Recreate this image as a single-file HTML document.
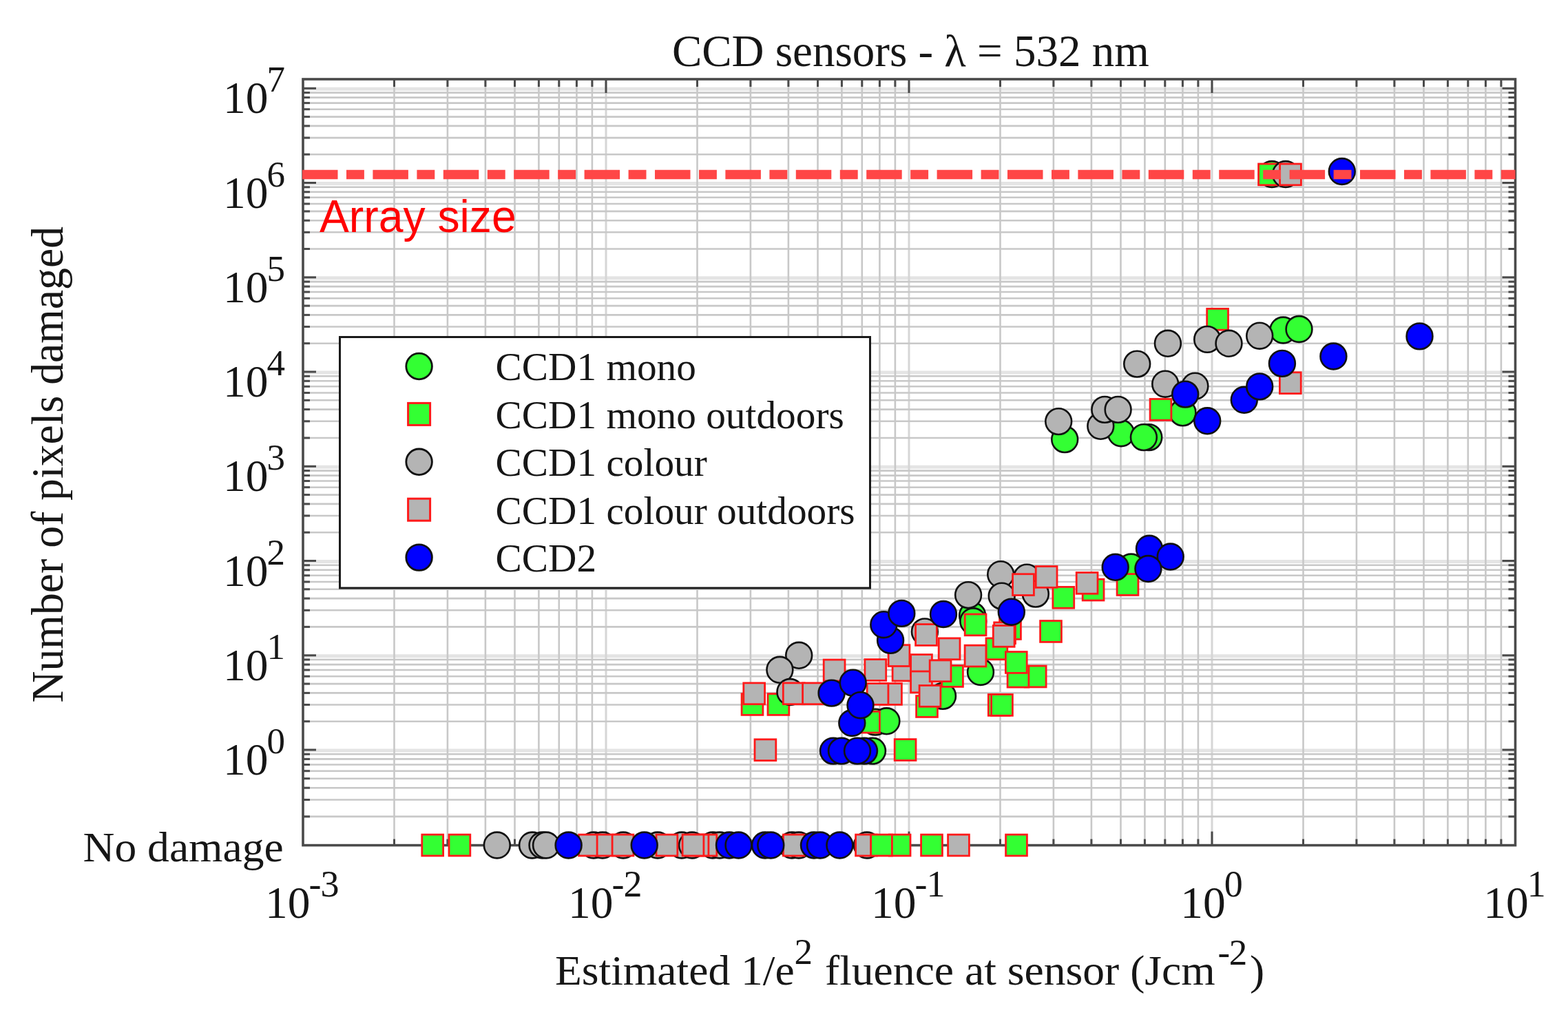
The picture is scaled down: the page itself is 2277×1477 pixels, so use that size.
<!DOCTYPE html>
<html><head><meta charset="utf-8"><title>CCD sensors</title><style>html,body{margin:0;padding:0;background:#fff;}svg{display:block;}</style></head><body>
<svg width="2277" height="1477" viewBox="0 0 2277 1477">
<rect width="100%" height="100%" fill="#fff"/>
<g stroke="#e4e4e4" stroke-width="5">
<line x1="440.0" y1="1090.0" x2="2200.5" y2="1090.0"/>
<line x1="440.0" y1="952.8" x2="2200.5" y2="952.8"/>
<line x1="440.0" y1="815.5" x2="2200.5" y2="815.5"/>
<line x1="440.0" y1="678.3" x2="2200.5" y2="678.3"/>
<line x1="440.0" y1="541.0" x2="2200.5" y2="541.0"/>
<line x1="440.0" y1="403.8" x2="2200.5" y2="403.8"/>
<line x1="440.0" y1="266.5" x2="2200.5" y2="266.5"/>
<line x1="440.0" y1="129.3" x2="2200.5" y2="129.3"/>
</g>
<g stroke="#d6d6d6" stroke-width="3">
<line x1="880.0" y1="115.0" x2="880.0" y2="1227.6"/>
<line x1="1320.0" y1="115.0" x2="1320.0" y2="1227.6"/>
<line x1="1760.0" y1="115.0" x2="1760.0" y2="1227.6"/>
</g>
<g stroke="#c8c8c8" stroke-width="2.6">
<line x1="572.5" y1="115.0" x2="572.5" y2="1227.6"/>
<line x1="649.9" y1="115.0" x2="649.9" y2="1227.6"/>
<line x1="704.9" y1="115.0" x2="704.9" y2="1227.6"/>
<line x1="747.5" y1="115.0" x2="747.5" y2="1227.6"/>
<line x1="782.4" y1="115.0" x2="782.4" y2="1227.6"/>
<line x1="811.8" y1="115.0" x2="811.8" y2="1227.6"/>
<line x1="837.4" y1="115.0" x2="837.4" y2="1227.6"/>
<line x1="859.9" y1="115.0" x2="859.9" y2="1227.6"/>
<line x1="1012.5" y1="115.0" x2="1012.5" y2="1227.6"/>
<line x1="1089.9" y1="115.0" x2="1089.9" y2="1227.6"/>
<line x1="1144.9" y1="115.0" x2="1144.9" y2="1227.6"/>
<line x1="1187.5" y1="115.0" x2="1187.5" y2="1227.6"/>
<line x1="1222.4" y1="115.0" x2="1222.4" y2="1227.6"/>
<line x1="1251.8" y1="115.0" x2="1251.8" y2="1227.6"/>
<line x1="1277.4" y1="115.0" x2="1277.4" y2="1227.6"/>
<line x1="1299.9" y1="115.0" x2="1299.9" y2="1227.6"/>
<line x1="1452.5" y1="115.0" x2="1452.5" y2="1227.6"/>
<line x1="1529.9" y1="115.0" x2="1529.9" y2="1227.6"/>
<line x1="1584.9" y1="115.0" x2="1584.9" y2="1227.6"/>
<line x1="1627.5" y1="115.0" x2="1627.5" y2="1227.6"/>
<line x1="1662.4" y1="115.0" x2="1662.4" y2="1227.6"/>
<line x1="1691.8" y1="115.0" x2="1691.8" y2="1227.6"/>
<line x1="1717.4" y1="115.0" x2="1717.4" y2="1227.6"/>
<line x1="1739.9" y1="115.0" x2="1739.9" y2="1227.6"/>
<line x1="1892.5" y1="115.0" x2="1892.5" y2="1227.6"/>
<line x1="1969.9" y1="115.0" x2="1969.9" y2="1227.6"/>
<line x1="2024.9" y1="115.0" x2="2024.9" y2="1227.6"/>
<line x1="2067.5" y1="115.0" x2="2067.5" y2="1227.6"/>
<line x1="2102.4" y1="115.0" x2="2102.4" y2="1227.6"/>
<line x1="2131.8" y1="115.0" x2="2131.8" y2="1227.6"/>
<line x1="2157.4" y1="115.0" x2="2157.4" y2="1227.6"/>
<line x1="2179.9" y1="115.0" x2="2179.9" y2="1227.6"/>
<line x1="440.0" y1="1185.9" x2="2200.5" y2="1185.9"/>
<line x1="440.0" y1="1161.5" x2="2200.5" y2="1161.5"/>
<line x1="440.0" y1="1144.2" x2="2200.5" y2="1144.2"/>
<line x1="440.0" y1="1130.7" x2="2200.5" y2="1130.7"/>
<line x1="440.0" y1="1119.7" x2="2200.5" y2="1119.7"/>
<line x1="440.0" y1="1110.5" x2="2200.5" y2="1110.5"/>
<line x1="440.0" y1="1102.4" x2="2200.5" y2="1102.4"/>
<line x1="440.0" y1="1095.3" x2="2200.5" y2="1095.3"/>
<line x1="440.0" y1="1047.7" x2="2200.5" y2="1047.7"/>
<line x1="440.0" y1="1023.5" x2="2200.5" y2="1023.5"/>
<line x1="440.0" y1="1006.4" x2="2200.5" y2="1006.4"/>
<line x1="440.0" y1="993.1" x2="2200.5" y2="993.1"/>
<line x1="440.0" y1="982.2" x2="2200.5" y2="982.2"/>
<line x1="440.0" y1="973.0" x2="2200.5" y2="973.0"/>
<line x1="440.0" y1="965.1" x2="2200.5" y2="965.1"/>
<line x1="440.0" y1="958.0" x2="2200.5" y2="958.0"/>
<line x1="440.0" y1="910.4" x2="2200.5" y2="910.4"/>
<line x1="440.0" y1="886.3" x2="2200.5" y2="886.3"/>
<line x1="440.0" y1="869.1" x2="2200.5" y2="869.1"/>
<line x1="440.0" y1="855.8" x2="2200.5" y2="855.8"/>
<line x1="440.0" y1="845.0" x2="2200.5" y2="845.0"/>
<line x1="440.0" y1="835.8" x2="2200.5" y2="835.8"/>
<line x1="440.0" y1="827.8" x2="2200.5" y2="827.8"/>
<line x1="440.0" y1="820.8" x2="2200.5" y2="820.8"/>
<line x1="440.0" y1="773.2" x2="2200.5" y2="773.2"/>
<line x1="440.0" y1="749.0" x2="2200.5" y2="749.0"/>
<line x1="440.0" y1="731.9" x2="2200.5" y2="731.9"/>
<line x1="440.0" y1="718.6" x2="2200.5" y2="718.6"/>
<line x1="440.0" y1="707.7" x2="2200.5" y2="707.7"/>
<line x1="440.0" y1="698.5" x2="2200.5" y2="698.5"/>
<line x1="440.0" y1="690.6" x2="2200.5" y2="690.6"/>
<line x1="440.0" y1="683.6" x2="2200.5" y2="683.6"/>
<line x1="440.0" y1="636.0" x2="2200.5" y2="636.0"/>
<line x1="440.0" y1="611.8" x2="2200.5" y2="611.8"/>
<line x1="440.0" y1="594.6" x2="2200.5" y2="594.6"/>
<line x1="440.0" y1="581.3" x2="2200.5" y2="581.3"/>
<line x1="440.0" y1="570.5" x2="2200.5" y2="570.5"/>
<line x1="440.0" y1="561.3" x2="2200.5" y2="561.3"/>
<line x1="440.0" y1="553.3" x2="2200.5" y2="553.3"/>
<line x1="440.0" y1="546.3" x2="2200.5" y2="546.3"/>
<line x1="440.0" y1="498.7" x2="2200.5" y2="498.7"/>
<line x1="440.0" y1="474.5" x2="2200.5" y2="474.5"/>
<line x1="440.0" y1="457.4" x2="2200.5" y2="457.4"/>
<line x1="440.0" y1="444.1" x2="2200.5" y2="444.1"/>
<line x1="440.0" y1="433.2" x2="2200.5" y2="433.2"/>
<line x1="440.0" y1="424.0" x2="2200.5" y2="424.0"/>
<line x1="440.0" y1="416.1" x2="2200.5" y2="416.1"/>
<line x1="440.0" y1="409.1" x2="2200.5" y2="409.1"/>
<line x1="440.0" y1="361.5" x2="2200.5" y2="361.5"/>
<line x1="440.0" y1="337.3" x2="2200.5" y2="337.3"/>
<line x1="440.0" y1="320.2" x2="2200.5" y2="320.2"/>
<line x1="440.0" y1="306.9" x2="2200.5" y2="306.9"/>
<line x1="440.0" y1="296.0" x2="2200.5" y2="296.0"/>
<line x1="440.0" y1="286.8" x2="2200.5" y2="286.8"/>
<line x1="440.0" y1="278.8" x2="2200.5" y2="278.8"/>
<line x1="440.0" y1="271.8" x2="2200.5" y2="271.8"/>
<line x1="440.0" y1="224.2" x2="2200.5" y2="224.2"/>
<line x1="440.0" y1="200.1" x2="2200.5" y2="200.1"/>
<line x1="440.0" y1="182.9" x2="2200.5" y2="182.9"/>
<line x1="440.0" y1="169.6" x2="2200.5" y2="169.6"/>
<line x1="440.0" y1="158.7" x2="2200.5" y2="158.7"/>
<line x1="440.0" y1="149.6" x2="2200.5" y2="149.6"/>
<line x1="440.0" y1="141.6" x2="2200.5" y2="141.6"/>
<line x1="440.0" y1="134.6" x2="2200.5" y2="134.6"/>
</g>
<g stroke="#4a4a4a" stroke-width="3">
<line x1="440.0" y1="1089.0" x2="459.0" y2="1089.0"/>
<line x1="2200.5" y1="1089.0" x2="2181.5" y2="1089.0"/>
<line x1="440.0" y1="951.8" x2="459.0" y2="951.8"/>
<line x1="2200.5" y1="951.8" x2="2181.5" y2="951.8"/>
<line x1="440.0" y1="814.5" x2="459.0" y2="814.5"/>
<line x1="2200.5" y1="814.5" x2="2181.5" y2="814.5"/>
<line x1="440.0" y1="677.3" x2="459.0" y2="677.3"/>
<line x1="2200.5" y1="677.3" x2="2181.5" y2="677.3"/>
<line x1="440.0" y1="540.0" x2="459.0" y2="540.0"/>
<line x1="2200.5" y1="540.0" x2="2181.5" y2="540.0"/>
<line x1="440.0" y1="402.8" x2="459.0" y2="402.8"/>
<line x1="2200.5" y1="402.8" x2="2181.5" y2="402.8"/>
<line x1="440.0" y1="265.5" x2="459.0" y2="265.5"/>
<line x1="2200.5" y1="265.5" x2="2181.5" y2="265.5"/>
<line x1="440.0" y1="128.3" x2="459.0" y2="128.3"/>
<line x1="2200.5" y1="128.3" x2="2181.5" y2="128.3"/>
<line x1="440.0" y1="1185.9" x2="450.0" y2="1185.9"/>
<line x1="2200.5" y1="1185.9" x2="2190.5" y2="1185.9"/>
<line x1="440.0" y1="1161.5" x2="450.0" y2="1161.5"/>
<line x1="2200.5" y1="1161.5" x2="2190.5" y2="1161.5"/>
<line x1="440.0" y1="1144.2" x2="450.0" y2="1144.2"/>
<line x1="2200.5" y1="1144.2" x2="2190.5" y2="1144.2"/>
<line x1="440.0" y1="1130.7" x2="450.0" y2="1130.7"/>
<line x1="2200.5" y1="1130.7" x2="2190.5" y2="1130.7"/>
<line x1="440.0" y1="1119.7" x2="450.0" y2="1119.7"/>
<line x1="2200.5" y1="1119.7" x2="2190.5" y2="1119.7"/>
<line x1="440.0" y1="1110.5" x2="450.0" y2="1110.5"/>
<line x1="2200.5" y1="1110.5" x2="2190.5" y2="1110.5"/>
<line x1="440.0" y1="1102.4" x2="450.0" y2="1102.4"/>
<line x1="2200.5" y1="1102.4" x2="2190.5" y2="1102.4"/>
<line x1="440.0" y1="1095.3" x2="450.0" y2="1095.3"/>
<line x1="2200.5" y1="1095.3" x2="2190.5" y2="1095.3"/>
<line x1="440.0" y1="1047.7" x2="450.0" y2="1047.7"/>
<line x1="2200.5" y1="1047.7" x2="2190.5" y2="1047.7"/>
<line x1="440.0" y1="1023.5" x2="450.0" y2="1023.5"/>
<line x1="2200.5" y1="1023.5" x2="2190.5" y2="1023.5"/>
<line x1="440.0" y1="1006.4" x2="450.0" y2="1006.4"/>
<line x1="2200.5" y1="1006.4" x2="2190.5" y2="1006.4"/>
<line x1="440.0" y1="993.1" x2="450.0" y2="993.1"/>
<line x1="2200.5" y1="993.1" x2="2190.5" y2="993.1"/>
<line x1="440.0" y1="982.2" x2="450.0" y2="982.2"/>
<line x1="2200.5" y1="982.2" x2="2190.5" y2="982.2"/>
<line x1="440.0" y1="973.0" x2="450.0" y2="973.0"/>
<line x1="2200.5" y1="973.0" x2="2190.5" y2="973.0"/>
<line x1="440.0" y1="965.1" x2="450.0" y2="965.1"/>
<line x1="2200.5" y1="965.1" x2="2190.5" y2="965.1"/>
<line x1="440.0" y1="958.0" x2="450.0" y2="958.0"/>
<line x1="2200.5" y1="958.0" x2="2190.5" y2="958.0"/>
<line x1="440.0" y1="910.4" x2="450.0" y2="910.4"/>
<line x1="2200.5" y1="910.4" x2="2190.5" y2="910.4"/>
<line x1="440.0" y1="886.3" x2="450.0" y2="886.3"/>
<line x1="2200.5" y1="886.3" x2="2190.5" y2="886.3"/>
<line x1="440.0" y1="869.1" x2="450.0" y2="869.1"/>
<line x1="2200.5" y1="869.1" x2="2190.5" y2="869.1"/>
<line x1="440.0" y1="855.8" x2="450.0" y2="855.8"/>
<line x1="2200.5" y1="855.8" x2="2190.5" y2="855.8"/>
<line x1="440.0" y1="845.0" x2="450.0" y2="845.0"/>
<line x1="2200.5" y1="845.0" x2="2190.5" y2="845.0"/>
<line x1="440.0" y1="835.8" x2="450.0" y2="835.8"/>
<line x1="2200.5" y1="835.8" x2="2190.5" y2="835.8"/>
<line x1="440.0" y1="827.8" x2="450.0" y2="827.8"/>
<line x1="2200.5" y1="827.8" x2="2190.5" y2="827.8"/>
<line x1="440.0" y1="820.8" x2="450.0" y2="820.8"/>
<line x1="2200.5" y1="820.8" x2="2190.5" y2="820.8"/>
<line x1="440.0" y1="773.2" x2="450.0" y2="773.2"/>
<line x1="2200.5" y1="773.2" x2="2190.5" y2="773.2"/>
<line x1="440.0" y1="749.0" x2="450.0" y2="749.0"/>
<line x1="2200.5" y1="749.0" x2="2190.5" y2="749.0"/>
<line x1="440.0" y1="731.9" x2="450.0" y2="731.9"/>
<line x1="2200.5" y1="731.9" x2="2190.5" y2="731.9"/>
<line x1="440.0" y1="718.6" x2="450.0" y2="718.6"/>
<line x1="2200.5" y1="718.6" x2="2190.5" y2="718.6"/>
<line x1="440.0" y1="707.7" x2="450.0" y2="707.7"/>
<line x1="2200.5" y1="707.7" x2="2190.5" y2="707.7"/>
<line x1="440.0" y1="698.5" x2="450.0" y2="698.5"/>
<line x1="2200.5" y1="698.5" x2="2190.5" y2="698.5"/>
<line x1="440.0" y1="690.6" x2="450.0" y2="690.6"/>
<line x1="2200.5" y1="690.6" x2="2190.5" y2="690.6"/>
<line x1="440.0" y1="683.6" x2="450.0" y2="683.6"/>
<line x1="2200.5" y1="683.6" x2="2190.5" y2="683.6"/>
<line x1="440.0" y1="636.0" x2="450.0" y2="636.0"/>
<line x1="2200.5" y1="636.0" x2="2190.5" y2="636.0"/>
<line x1="440.0" y1="611.8" x2="450.0" y2="611.8"/>
<line x1="2200.5" y1="611.8" x2="2190.5" y2="611.8"/>
<line x1="440.0" y1="594.6" x2="450.0" y2="594.6"/>
<line x1="2200.5" y1="594.6" x2="2190.5" y2="594.6"/>
<line x1="440.0" y1="581.3" x2="450.0" y2="581.3"/>
<line x1="2200.5" y1="581.3" x2="2190.5" y2="581.3"/>
<line x1="440.0" y1="570.5" x2="450.0" y2="570.5"/>
<line x1="2200.5" y1="570.5" x2="2190.5" y2="570.5"/>
<line x1="440.0" y1="561.3" x2="450.0" y2="561.3"/>
<line x1="2200.5" y1="561.3" x2="2190.5" y2="561.3"/>
<line x1="440.0" y1="553.3" x2="450.0" y2="553.3"/>
<line x1="2200.5" y1="553.3" x2="2190.5" y2="553.3"/>
<line x1="440.0" y1="546.3" x2="450.0" y2="546.3"/>
<line x1="2200.5" y1="546.3" x2="2190.5" y2="546.3"/>
<line x1="440.0" y1="498.7" x2="450.0" y2="498.7"/>
<line x1="2200.5" y1="498.7" x2="2190.5" y2="498.7"/>
<line x1="440.0" y1="474.5" x2="450.0" y2="474.5"/>
<line x1="2200.5" y1="474.5" x2="2190.5" y2="474.5"/>
<line x1="440.0" y1="457.4" x2="450.0" y2="457.4"/>
<line x1="2200.5" y1="457.4" x2="2190.5" y2="457.4"/>
<line x1="440.0" y1="444.1" x2="450.0" y2="444.1"/>
<line x1="2200.5" y1="444.1" x2="2190.5" y2="444.1"/>
<line x1="440.0" y1="433.2" x2="450.0" y2="433.2"/>
<line x1="2200.5" y1="433.2" x2="2190.5" y2="433.2"/>
<line x1="440.0" y1="424.0" x2="450.0" y2="424.0"/>
<line x1="2200.5" y1="424.0" x2="2190.5" y2="424.0"/>
<line x1="440.0" y1="416.1" x2="450.0" y2="416.1"/>
<line x1="2200.5" y1="416.1" x2="2190.5" y2="416.1"/>
<line x1="440.0" y1="409.1" x2="450.0" y2="409.1"/>
<line x1="2200.5" y1="409.1" x2="2190.5" y2="409.1"/>
<line x1="440.0" y1="361.5" x2="450.0" y2="361.5"/>
<line x1="2200.5" y1="361.5" x2="2190.5" y2="361.5"/>
<line x1="440.0" y1="337.3" x2="450.0" y2="337.3"/>
<line x1="2200.5" y1="337.3" x2="2190.5" y2="337.3"/>
<line x1="440.0" y1="320.2" x2="450.0" y2="320.2"/>
<line x1="2200.5" y1="320.2" x2="2190.5" y2="320.2"/>
<line x1="440.0" y1="306.9" x2="450.0" y2="306.9"/>
<line x1="2200.5" y1="306.9" x2="2190.5" y2="306.9"/>
<line x1="440.0" y1="296.0" x2="450.0" y2="296.0"/>
<line x1="2200.5" y1="296.0" x2="2190.5" y2="296.0"/>
<line x1="440.0" y1="286.8" x2="450.0" y2="286.8"/>
<line x1="2200.5" y1="286.8" x2="2190.5" y2="286.8"/>
<line x1="440.0" y1="278.8" x2="450.0" y2="278.8"/>
<line x1="2200.5" y1="278.8" x2="2190.5" y2="278.8"/>
<line x1="440.0" y1="271.8" x2="450.0" y2="271.8"/>
<line x1="2200.5" y1="271.8" x2="2190.5" y2="271.8"/>
<line x1="440.0" y1="224.2" x2="450.0" y2="224.2"/>
<line x1="2200.5" y1="224.2" x2="2190.5" y2="224.2"/>
<line x1="440.0" y1="200.1" x2="450.0" y2="200.1"/>
<line x1="2200.5" y1="200.1" x2="2190.5" y2="200.1"/>
<line x1="440.0" y1="182.9" x2="450.0" y2="182.9"/>
<line x1="2200.5" y1="182.9" x2="2190.5" y2="182.9"/>
<line x1="440.0" y1="169.6" x2="450.0" y2="169.6"/>
<line x1="2200.5" y1="169.6" x2="2190.5" y2="169.6"/>
<line x1="440.0" y1="158.7" x2="450.0" y2="158.7"/>
<line x1="2200.5" y1="158.7" x2="2190.5" y2="158.7"/>
<line x1="440.0" y1="149.6" x2="450.0" y2="149.6"/>
<line x1="2200.5" y1="149.6" x2="2190.5" y2="149.6"/>
<line x1="440.0" y1="141.6" x2="450.0" y2="141.6"/>
<line x1="2200.5" y1="141.6" x2="2190.5" y2="141.6"/>
<line x1="440.0" y1="134.6" x2="450.0" y2="134.6"/>
<line x1="2200.5" y1="134.6" x2="2190.5" y2="134.6"/>
<line x1="880.0" y1="115.0" x2="880.0" y2="135.0"/>
<line x1="880.0" y1="1227.6" x2="880.0" y2="1207.6"/>
<line x1="1320.0" y1="115.0" x2="1320.0" y2="135.0"/>
<line x1="1320.0" y1="1227.6" x2="1320.0" y2="1207.6"/>
<line x1="1760.0" y1="115.0" x2="1760.0" y2="135.0"/>
<line x1="1760.0" y1="1227.6" x2="1760.0" y2="1207.6"/>
<line x1="572.5" y1="115.0" x2="572.5" y2="126.0"/>
<line x1="572.5" y1="1227.6" x2="572.5" y2="1218.6"/>
<line x1="649.9" y1="115.0" x2="649.9" y2="126.0"/>
<line x1="649.9" y1="1227.6" x2="649.9" y2="1218.6"/>
<line x1="704.9" y1="115.0" x2="704.9" y2="126.0"/>
<line x1="704.9" y1="1227.6" x2="704.9" y2="1218.6"/>
<line x1="747.5" y1="115.0" x2="747.5" y2="126.0"/>
<line x1="747.5" y1="1227.6" x2="747.5" y2="1218.6"/>
<line x1="782.4" y1="115.0" x2="782.4" y2="126.0"/>
<line x1="782.4" y1="1227.6" x2="782.4" y2="1218.6"/>
<line x1="811.8" y1="115.0" x2="811.8" y2="126.0"/>
<line x1="811.8" y1="1227.6" x2="811.8" y2="1218.6"/>
<line x1="837.4" y1="115.0" x2="837.4" y2="126.0"/>
<line x1="837.4" y1="1227.6" x2="837.4" y2="1218.6"/>
<line x1="859.9" y1="115.0" x2="859.9" y2="126.0"/>
<line x1="859.9" y1="1227.6" x2="859.9" y2="1218.6"/>
<line x1="1012.5" y1="115.0" x2="1012.5" y2="126.0"/>
<line x1="1012.5" y1="1227.6" x2="1012.5" y2="1218.6"/>
<line x1="1089.9" y1="115.0" x2="1089.9" y2="126.0"/>
<line x1="1089.9" y1="1227.6" x2="1089.9" y2="1218.6"/>
<line x1="1144.9" y1="115.0" x2="1144.9" y2="126.0"/>
<line x1="1144.9" y1="1227.6" x2="1144.9" y2="1218.6"/>
<line x1="1187.5" y1="115.0" x2="1187.5" y2="126.0"/>
<line x1="1187.5" y1="1227.6" x2="1187.5" y2="1218.6"/>
<line x1="1222.4" y1="115.0" x2="1222.4" y2="126.0"/>
<line x1="1222.4" y1="1227.6" x2="1222.4" y2="1218.6"/>
<line x1="1251.8" y1="115.0" x2="1251.8" y2="126.0"/>
<line x1="1251.8" y1="1227.6" x2="1251.8" y2="1218.6"/>
<line x1="1277.4" y1="115.0" x2="1277.4" y2="126.0"/>
<line x1="1277.4" y1="1227.6" x2="1277.4" y2="1218.6"/>
<line x1="1299.9" y1="115.0" x2="1299.9" y2="126.0"/>
<line x1="1299.9" y1="1227.6" x2="1299.9" y2="1218.6"/>
<line x1="1452.5" y1="115.0" x2="1452.5" y2="126.0"/>
<line x1="1452.5" y1="1227.6" x2="1452.5" y2="1218.6"/>
<line x1="1529.9" y1="115.0" x2="1529.9" y2="126.0"/>
<line x1="1529.9" y1="1227.6" x2="1529.9" y2="1218.6"/>
<line x1="1584.9" y1="115.0" x2="1584.9" y2="126.0"/>
<line x1="1584.9" y1="1227.6" x2="1584.9" y2="1218.6"/>
<line x1="1627.5" y1="115.0" x2="1627.5" y2="126.0"/>
<line x1="1627.5" y1="1227.6" x2="1627.5" y2="1218.6"/>
<line x1="1662.4" y1="115.0" x2="1662.4" y2="126.0"/>
<line x1="1662.4" y1="1227.6" x2="1662.4" y2="1218.6"/>
<line x1="1691.8" y1="115.0" x2="1691.8" y2="126.0"/>
<line x1="1691.8" y1="1227.6" x2="1691.8" y2="1218.6"/>
<line x1="1717.4" y1="115.0" x2="1717.4" y2="126.0"/>
<line x1="1717.4" y1="1227.6" x2="1717.4" y2="1218.6"/>
<line x1="1739.9" y1="115.0" x2="1739.9" y2="126.0"/>
<line x1="1739.9" y1="1227.6" x2="1739.9" y2="1218.6"/>
<line x1="1892.5" y1="115.0" x2="1892.5" y2="126.0"/>
<line x1="1892.5" y1="1227.6" x2="1892.5" y2="1218.6"/>
<line x1="1969.9" y1="115.0" x2="1969.9" y2="126.0"/>
<line x1="1969.9" y1="1227.6" x2="1969.9" y2="1218.6"/>
<line x1="2024.9" y1="115.0" x2="2024.9" y2="126.0"/>
<line x1="2024.9" y1="1227.6" x2="2024.9" y2="1218.6"/>
<line x1="2067.5" y1="115.0" x2="2067.5" y2="126.0"/>
<line x1="2067.5" y1="1227.6" x2="2067.5" y2="1218.6"/>
<line x1="2102.4" y1="115.0" x2="2102.4" y2="126.0"/>
<line x1="2102.4" y1="1227.6" x2="2102.4" y2="1218.6"/>
<line x1="2131.8" y1="115.0" x2="2131.8" y2="126.0"/>
<line x1="2131.8" y1="1227.6" x2="2131.8" y2="1218.6"/>
<line x1="2157.4" y1="115.0" x2="2157.4" y2="126.0"/>
<line x1="2157.4" y1="1227.6" x2="2157.4" y2="1218.6"/>
<line x1="2179.9" y1="115.0" x2="2179.9" y2="126.0"/>
<line x1="2179.9" y1="1227.6" x2="2179.9" y2="1218.6"/>
</g>
<rect x="440.0" y="115.0" width="1760.5" height="1112.6" fill="none" stroke="#4a4a4a" stroke-width="3.6"/>
<circle cx="1546.2" cy="638.1" r="18.9" fill="#33ff33" stroke="#111" stroke-width="2.6"/>
<circle cx="1628.1" cy="629.2" r="18.9" fill="#33ff33" stroke="#111" stroke-width="2.6"/>
<circle cx="1668.3" cy="635.1" r="18.9" fill="#33ff33" stroke="#111" stroke-width="2.6"/>
<circle cx="1660.9" cy="635.1" r="18.9" fill="#33ff33" stroke="#111" stroke-width="2.6"/>
<circle cx="1717.5" cy="599.4" r="18.9" fill="#33ff33" stroke="#111" stroke-width="2.6"/>
<circle cx="1863.4" cy="479.5" r="18.9" fill="#33ff33" stroke="#111" stroke-width="2.6"/>
<circle cx="1886.5" cy="478" r="18.9" fill="#33ff33" stroke="#111" stroke-width="2.6"/>
<circle cx="1642.5" cy="823.5" r="18.9" fill="#33ff33" stroke="#111" stroke-width="2.6"/>
<circle cx="1412.1" cy="893.9" r="18.9" fill="#33ff33" stroke="#111" stroke-width="2.6"/>
<circle cx="1271" cy="1048.6" r="18.9" fill="#33ff33" stroke="#111" stroke-width="2.6"/>
<circle cx="1287.4" cy="1047.3" r="18.9" fill="#33ff33" stroke="#111" stroke-width="2.6"/>
<circle cx="1413.3" cy="902.3" r="18.9" fill="#33ff33" stroke="#111" stroke-width="2.6"/>
<circle cx="1424" cy="976" r="18.9" fill="#33ff33" stroke="#111" stroke-width="2.6"/>
<circle cx="1369" cy="1010.9" r="18.9" fill="#33ff33" stroke="#111" stroke-width="2.6"/>
<circle cx="1267" cy="1090.6" r="18.9" fill="#33ff33" stroke="#111" stroke-width="2.6"/>
<rect x="1670.1000000000001" y="579.5" width="30.8" height="30.8" fill="#33ff33" stroke="#ff1a1a" stroke-width="2.8"/>
<rect x="1752.7" y="448.4" width="30.8" height="30.8" fill="#33ff33" stroke="#ff1a1a" stroke-width="2.8"/>
<rect x="1528.9" y="852.4" width="30.8" height="30.8" fill="#33ff33" stroke="#ff1a1a" stroke-width="2.8"/>
<rect x="1572.2" y="841.2" width="30.8" height="30.8" fill="#33ff33" stroke="#ff1a1a" stroke-width="2.8"/>
<rect x="1622.1000000000001" y="833.6" width="30.8" height="30.8" fill="#33ff33" stroke="#ff1a1a" stroke-width="2.8"/>
<rect x="1401.2" y="892.0" width="30.8" height="30.8" fill="#33ff33" stroke="#ff1a1a" stroke-width="2.8"/>
<rect x="1510.6000000000001" y="901.6" width="30.8" height="30.8" fill="#33ff33" stroke="#ff1a1a" stroke-width="2.8"/>
<rect x="1077.1000000000001" y="1007.6" width="30.8" height="30.8" fill="#33ff33" stroke="#ff1a1a" stroke-width="2.8"/>
<rect x="1115.0000000000002" y="1007.6" width="30.8" height="30.8" fill="#33ff33" stroke="#ff1a1a" stroke-width="2.8"/>
<rect x="1299.2" y="1073.6000000000001" width="30.8" height="30.8" fill="#33ff33" stroke="#ff1a1a" stroke-width="2.8"/>
<rect x="1330.6000000000001" y="1010.6" width="30.8" height="30.8" fill="#33ff33" stroke="#ff1a1a" stroke-width="2.8"/>
<rect x="1432.0000000000002" y="926.9" width="30.8" height="30.8" fill="#33ff33" stroke="#ff1a1a" stroke-width="2.8"/>
<rect x="1488.3000000000002" y="967.1" width="30.8" height="30.8" fill="#33ff33" stroke="#ff1a1a" stroke-width="2.8"/>
<rect x="1463.1000000000001" y="967.3000000000001" width="30.8" height="30.8" fill="#33ff33" stroke="#ff1a1a" stroke-width="2.8"/>
<rect x="1460.4" y="946.6" width="30.8" height="30.8" fill="#33ff33" stroke="#ff1a1a" stroke-width="2.8"/>
<rect x="1367.6000000000001" y="966.6" width="30.8" height="30.8" fill="#33ff33" stroke="#ff1a1a" stroke-width="2.8"/>
<rect x="1451.6000000000001" y="897.6" width="30.8" height="30.8" fill="#33ff33" stroke="#ff1a1a" stroke-width="2.8"/>
<rect x="1435.3000000000002" y="1008.5" width="30.8" height="30.8" fill="#33ff33" stroke="#ff1a1a" stroke-width="2.8"/>
<rect x="1439.6000000000001" y="1008.5" width="30.8" height="30.8" fill="#33ff33" stroke="#ff1a1a" stroke-width="2.8"/>
<rect x="1246.6000000000001" y="1033.3000000000002" width="30.8" height="30.8" fill="#33ff33" stroke="#ff1a1a" stroke-width="2.8"/>
<circle cx="1537.2" cy="612.1" r="18.9" fill="#b4b4b4" stroke="#111" stroke-width="2.6"/>
<circle cx="1598.3" cy="618.8" r="18.9" fill="#b4b4b4" stroke="#111" stroke-width="2.6"/>
<circle cx="1604.3" cy="594.9" r="18.9" fill="#b4b4b4" stroke="#111" stroke-width="2.6"/>
<circle cx="1623.6" cy="594.9" r="18.9" fill="#b4b4b4" stroke="#111" stroke-width="2.6"/>
<circle cx="1651.2" cy="528.6" r="18.9" fill="#b4b4b4" stroke="#111" stroke-width="2.6"/>
<circle cx="1695.9" cy="498.8" r="18.9" fill="#b4b4b4" stroke="#111" stroke-width="2.6"/>
<circle cx="1692.2" cy="557.7" r="18.9" fill="#b4b4b4" stroke="#111" stroke-width="2.6"/>
<circle cx="1735.4" cy="560.7" r="18.9" fill="#b4b4b4" stroke="#111" stroke-width="2.6"/>
<circle cx="1753.2" cy="492.9" r="18.9" fill="#b4b4b4" stroke="#111" stroke-width="2.6"/>
<circle cx="1784.5" cy="498.8" r="18.9" fill="#b4b4b4" stroke="#111" stroke-width="2.6"/>
<circle cx="1829.2" cy="487.7" r="18.9" fill="#b4b4b4" stroke="#111" stroke-width="2.6"/>
<circle cx="1453.2" cy="834.2" r="18.9" fill="#b4b4b4" stroke="#111" stroke-width="2.6"/>
<circle cx="1406.1" cy="864.1" r="18.9" fill="#b4b4b4" stroke="#111" stroke-width="2.6"/>
<circle cx="1454.7" cy="865.6" r="18.9" fill="#b4b4b4" stroke="#111" stroke-width="2.6"/>
<circle cx="1491.2" cy="838.7" r="18.9" fill="#b4b4b4" stroke="#111" stroke-width="2.6"/>
<circle cx="1503.9" cy="862.6" r="18.9" fill="#b4b4b4" stroke="#111" stroke-width="2.6"/>
<circle cx="1160.2" cy="951.8" r="18.9" fill="#b4b4b4" stroke="#111" stroke-width="2.6"/>
<circle cx="1132.4" cy="972.8" r="18.9" fill="#b4b4b4" stroke="#111" stroke-width="2.6"/>
<circle cx="1147.4" cy="1005" r="18.9" fill="#b4b4b4" stroke="#111" stroke-width="2.6"/>
<circle cx="1342.9" cy="917.4" r="18.9" fill="#b4b4b4" stroke="#111" stroke-width="2.6"/>
<rect x="1858.4" y="540.8000000000001" width="30.8" height="30.8" fill="#b4b4b4" stroke="#ff1a1a" stroke-width="2.8"/>
<rect x="1470.6000000000001" y="833.7" width="30.8" height="30.8" fill="#b4b4b4" stroke="#ff1a1a" stroke-width="2.8"/>
<rect x="1504.2" y="822.5" width="30.8" height="30.8" fill="#b4b4b4" stroke="#ff1a1a" stroke-width="2.8"/>
<rect x="1563.2" y="831.5" width="30.8" height="30.8" fill="#b4b4b4" stroke="#ff1a1a" stroke-width="2.8"/>
<rect x="1443.7" y="903.9" width="30.8" height="30.8" fill="#b4b4b4" stroke="#ff1a1a" stroke-width="2.8"/>
<rect x="1079.8000000000002" y="991.9" width="30.8" height="30.8" fill="#b4b4b4" stroke="#ff1a1a" stroke-width="2.8"/>
<rect x="1137.3000000000002" y="991.9" width="30.8" height="30.8" fill="#b4b4b4" stroke="#ff1a1a" stroke-width="2.8"/>
<rect x="1165.6000000000001" y="991.9" width="30.8" height="30.8" fill="#b4b4b4" stroke="#ff1a1a" stroke-width="2.8"/>
<rect x="1196.2" y="958.1" width="30.8" height="30.8" fill="#b4b4b4" stroke="#ff1a1a" stroke-width="2.8"/>
<rect x="1255.9" y="957.6" width="30.8" height="30.8" fill="#b4b4b4" stroke="#ff1a1a" stroke-width="2.8"/>
<rect x="1296.1000000000001" y="958.1" width="30.8" height="30.8" fill="#b4b4b4" stroke="#ff1a1a" stroke-width="2.8"/>
<rect x="1322.6000000000001" y="950.6" width="30.8" height="30.8" fill="#b4b4b4" stroke="#ff1a1a" stroke-width="2.8"/>
<rect x="1322.6000000000001" y="975.0" width="30.8" height="30.8" fill="#b4b4b4" stroke="#ff1a1a" stroke-width="2.8"/>
<rect x="1278.6000000000001" y="992.6" width="30.8" height="30.8" fill="#b4b4b4" stroke="#ff1a1a" stroke-width="2.8"/>
<rect x="1259.1000000000001" y="992.6" width="30.8" height="30.8" fill="#b4b4b4" stroke="#ff1a1a" stroke-width="2.8"/>
<rect x="1329.6000000000001" y="906.6" width="30.8" height="30.8" fill="#b4b4b4" stroke="#ff1a1a" stroke-width="2.8"/>
<rect x="1290.1000000000001" y="936.7" width="30.8" height="30.8" fill="#b4b4b4" stroke="#ff1a1a" stroke-width="2.8"/>
<rect x="1350.2" y="958.9" width="30.8" height="30.8" fill="#b4b4b4" stroke="#ff1a1a" stroke-width="2.8"/>
<rect x="1363.2" y="926.9" width="30.8" height="30.8" fill="#b4b4b4" stroke="#ff1a1a" stroke-width="2.8"/>
<rect x="1401.1000000000001" y="937.2" width="30.8" height="30.8" fill="#b4b4b4" stroke="#ff1a1a" stroke-width="2.8"/>
<rect x="1442.3000000000002" y="908.5" width="30.8" height="30.8" fill="#b4b4b4" stroke="#ff1a1a" stroke-width="2.8"/>
<rect x="1335.1000000000001" y="995.5" width="30.8" height="30.8" fill="#b4b4b4" stroke="#ff1a1a" stroke-width="2.8"/>
<rect x="1096.0000000000002" y="1073.8000000000002" width="30.8" height="30.8" fill="#b4b4b4" stroke="#ff1a1a" stroke-width="2.8"/>
<circle cx="1721.2" cy="572.6" r="18.9" fill="#0000ff" stroke="#111" stroke-width="2.6"/>
<circle cx="1753.2" cy="611.3" r="18.9" fill="#0000ff" stroke="#111" stroke-width="2.6"/>
<circle cx="1806.8" cy="580.8" r="18.9" fill="#0000ff" stroke="#111" stroke-width="2.6"/>
<circle cx="1829.2" cy="561.4" r="18.9" fill="#0000ff" stroke="#111" stroke-width="2.6"/>
<circle cx="1861.9" cy="527.9" r="18.9" fill="#0000ff" stroke="#111" stroke-width="2.6"/>
<circle cx="1936.4" cy="517.5" r="18.9" fill="#0000ff" stroke="#111" stroke-width="2.6"/>
<circle cx="2061.5" cy="488.4" r="18.9" fill="#0000ff" stroke="#111" stroke-width="2.6"/>
<circle cx="1619.7" cy="823.8" r="18.9" fill="#0000ff" stroke="#111" stroke-width="2.6"/>
<circle cx="1669" cy="796.8" r="18.9" fill="#0000ff" stroke="#111" stroke-width="2.6"/>
<circle cx="1699.7" cy="808.5" r="18.9" fill="#0000ff" stroke="#111" stroke-width="2.6"/>
<circle cx="1667.4" cy="826" r="18.9" fill="#0000ff" stroke="#111" stroke-width="2.6"/>
<circle cx="1468.8" cy="888.7" r="18.9" fill="#0000ff" stroke="#111" stroke-width="2.6"/>
<circle cx="1370" cy="892" r="18.9" fill="#0000ff" stroke="#111" stroke-width="2.6"/>
<circle cx="1293.1" cy="929.9" r="18.9" fill="#0000ff" stroke="#111" stroke-width="2.6"/>
<circle cx="1283.3" cy="907.2" r="18.9" fill="#0000ff" stroke="#111" stroke-width="2.6"/>
<circle cx="1309.3" cy="890.9" r="18.9" fill="#0000ff" stroke="#111" stroke-width="2.6"/>
<circle cx="1207.6" cy="1006.6" r="18.9" fill="#0000ff" stroke="#111" stroke-width="2.6"/>
<circle cx="1238.7" cy="991.7" r="18.9" fill="#0000ff" stroke="#111" stroke-width="2.6"/>
<circle cx="1237.3" cy="1050" r="18.9" fill="#0000ff" stroke="#111" stroke-width="2.6"/>
<circle cx="1249.5" cy="1024.2" r="18.9" fill="#0000ff" stroke="#111" stroke-width="2.6"/>
<circle cx="1210" cy="1090.6" r="18.9" fill="#0000ff" stroke="#111" stroke-width="2.6"/>
<circle cx="1222" cy="1090.6" r="18.9" fill="#0000ff" stroke="#111" stroke-width="2.6"/>
<circle cx="1255" cy="1090.6" r="18.9" fill="#0000ff" stroke="#111" stroke-width="2.6"/>
<circle cx="1245" cy="1090.6" r="18.9" fill="#0000ff" stroke="#111" stroke-width="2.6"/>
<circle cx="721.8" cy="1227.5" r="18.9" fill="#b4b4b4" stroke="#111" stroke-width="2.6"/>
<circle cx="773" cy="1227.5" r="18.9" fill="#b4b4b4" stroke="#111" stroke-width="2.6"/>
<circle cx="787.5" cy="1227.5" r="18.9" fill="#b4b4b4" stroke="#111" stroke-width="2.6"/>
<circle cx="793" cy="1227.5" r="18.9" fill="#b4b4b4" stroke="#111" stroke-width="2.6"/>
<circle cx="862" cy="1227.5" r="18.9" fill="#b4b4b4" stroke="#111" stroke-width="2.6"/>
<circle cx="875" cy="1227.5" r="18.9" fill="#b4b4b4" stroke="#111" stroke-width="2.6"/>
<circle cx="905" cy="1227.5" r="18.9" fill="#b4b4b4" stroke="#111" stroke-width="2.6"/>
<circle cx="955" cy="1227.5" r="18.9" fill="#b4b4b4" stroke="#111" stroke-width="2.6"/>
<circle cx="990" cy="1227.5" r="18.9" fill="#b4b4b4" stroke="#111" stroke-width="2.6"/>
<circle cx="1005" cy="1227.5" r="18.9" fill="#b4b4b4" stroke="#111" stroke-width="2.6"/>
<circle cx="1035" cy="1227.5" r="18.9" fill="#b4b4b4" stroke="#111" stroke-width="2.6"/>
<circle cx="1045" cy="1227.5" r="18.9" fill="#b4b4b4" stroke="#111" stroke-width="2.6"/>
<circle cx="1150" cy="1227.5" r="18.9" fill="#b4b4b4" stroke="#111" stroke-width="2.6"/>
<circle cx="1160" cy="1227.5" r="18.9" fill="#b4b4b4" stroke="#111" stroke-width="2.6"/>
<circle cx="1259" cy="1227.5" r="18.9" fill="#b4b4b4" stroke="#111" stroke-width="2.6"/>
<rect x="840.6" y="1212.1000000000001" width="30.8" height="30.8" fill="#b4b4b4" stroke="#ff1a1a" stroke-width="2.8"/>
<rect x="867.1" y="1212.1000000000001" width="30.8" height="30.8" fill="#b4b4b4" stroke="#ff1a1a" stroke-width="2.8"/>
<rect x="889.1" y="1212.1000000000001" width="30.8" height="30.8" fill="#b4b4b4" stroke="#ff1a1a" stroke-width="2.8"/>
<rect x="953.0" y="1212.1000000000001" width="30.8" height="30.8" fill="#b4b4b4" stroke="#ff1a1a" stroke-width="2.8"/>
<rect x="1010.0000000000001" y="1212.1000000000001" width="30.8" height="30.8" fill="#b4b4b4" stroke="#ff1a1a" stroke-width="2.8"/>
<rect x="998.1" y="1212.1000000000001" width="30.8" height="30.8" fill="#b4b4b4" stroke="#ff1a1a" stroke-width="2.8"/>
<rect x="991.1" y="1212.1000000000001" width="30.8" height="30.8" fill="#b4b4b4" stroke="#ff1a1a" stroke-width="2.8"/>
<rect x="1137.4" y="1212.1000000000001" width="30.8" height="30.8" fill="#b4b4b4" stroke="#ff1a1a" stroke-width="2.8"/>
<rect x="1242.6000000000001" y="1212.1000000000001" width="30.8" height="30.8" fill="#b4b4b4" stroke="#ff1a1a" stroke-width="2.8"/>
<rect x="1376.6000000000001" y="1212.1000000000001" width="30.8" height="30.8" fill="#b4b4b4" stroke="#ff1a1a" stroke-width="2.8"/>
<rect x="612.8000000000001" y="1212.1000000000001" width="30.8" height="30.8" fill="#33ff33" stroke="#ff1a1a" stroke-width="2.8"/>
<rect x="652.0" y="1212.1000000000001" width="30.8" height="30.8" fill="#33ff33" stroke="#ff1a1a" stroke-width="2.8"/>
<rect x="1291.2" y="1212.1000000000001" width="30.8" height="30.8" fill="#33ff33" stroke="#ff1a1a" stroke-width="2.8"/>
<rect x="1264.6000000000001" y="1212.1000000000001" width="30.8" height="30.8" fill="#33ff33" stroke="#ff1a1a" stroke-width="2.8"/>
<rect x="1337.6000000000001" y="1212.1000000000001" width="30.8" height="30.8" fill="#33ff33" stroke="#ff1a1a" stroke-width="2.8"/>
<rect x="1460.6000000000001" y="1212.1000000000001" width="30.8" height="30.8" fill="#33ff33" stroke="#ff1a1a" stroke-width="2.8"/>
<circle cx="825.6" cy="1227.5" r="18.9" fill="#0000ff" stroke="#111" stroke-width="2.6"/>
<circle cx="935.7" cy="1227.5" r="18.9" fill="#0000ff" stroke="#111" stroke-width="2.6"/>
<circle cx="1059" cy="1227.5" r="18.9" fill="#0000ff" stroke="#111" stroke-width="2.6"/>
<circle cx="1072.5" cy="1227.5" r="18.9" fill="#0000ff" stroke="#111" stroke-width="2.6"/>
<circle cx="1111" cy="1227.5" r="18.9" fill="#0000ff" stroke="#111" stroke-width="2.6"/>
<circle cx="1119.3" cy="1227.5" r="18.9" fill="#0000ff" stroke="#111" stroke-width="2.6"/>
<circle cx="1182" cy="1227.5" r="18.9" fill="#0000ff" stroke="#111" stroke-width="2.6"/>
<circle cx="1191" cy="1227.5" r="18.9" fill="#0000ff" stroke="#111" stroke-width="2.6"/>
<circle cx="1219.4" cy="1227.5" r="18.9" fill="#0000ff" stroke="#111" stroke-width="2.6"/>
<circle cx="1847" cy="253" r="18.9" fill="#33ff33" stroke="#111" stroke-width="2.6"/>
<rect x="1827.6000000000001" y="238.0" width="30.8" height="30.8" fill="#33ff33" stroke="#ff1a1a" stroke-width="2.8"/>
<circle cx="1867" cy="253" r="18.9" fill="#b4b4b4" stroke="#111" stroke-width="2.6"/>
<rect x="1858.6000000000001" y="238.0" width="30.8" height="30.8" fill="#b4b4b4" stroke="#ff1a1a" stroke-width="2.8"/>
<circle cx="1948.8" cy="249" r="18.9" fill="#0000ff" stroke="#111" stroke-width="2.6"/>
<line x1="439" y1="253.6" x2="2200.5" y2="253.6" stroke="#ff4646" stroke-width="13.5" stroke-dasharray="51.5 12.5 25.9 12.5"/>
<rect x="493.5" y="489.5" width="770.0" height="364.5" fill="#fff" stroke="#1a1a1a" stroke-width="3"/>
<circle cx="608.6" cy="532.0" r="18.8" fill="#33ff33" stroke="#111" stroke-width="2.8"/>
<text x="719.6" y="552.3" font-family="Liberation Serif, serif" font-size="57.3" fill="#161616">CCD1 mono</text>
<rect x="592.6" y="585.4" width="32" height="32" fill="#33ff33" stroke="#ff1a1a" stroke-width="3"/>
<text x="719.6" y="621.7" font-family="Liberation Serif, serif" font-size="57.3" fill="#161616">CCD1 mono outdoors</text>
<circle cx="608.6" cy="670.8" r="18.8" fill="#b4b4b4" stroke="#111" stroke-width="2.8"/>
<text x="719.6" y="691.1" font-family="Liberation Serif, serif" font-size="57.3" fill="#161616">CCD1 colour</text>
<rect x="592.6" y="724.2" width="32" height="32" fill="#b4b4b4" stroke="#ff1a1a" stroke-width="3"/>
<text x="719.6" y="760.5" font-family="Liberation Serif, serif" font-size="57.3" fill="#161616">CCD1 colour outdoors</text>
<circle cx="608.6" cy="809.6" r="18.8" fill="#0000ff" stroke="#111" stroke-width="2.8"/>
<text x="719.6" y="829.9" font-family="Liberation Serif, serif" font-size="57.3" fill="#161616">CCD2</text>
<text x="975.9" y="95.6" font-family="Liberation Serif, serif" fill="#161616" font-size="65">CCD sensors - λ = 532 nm</text>
<text x="324" y="1125.0" font-family="Liberation Serif, serif" fill="#161616" font-size="65.5">10</text>
<text x="387.6" y="1094.0" font-family="Liberation Serif, serif" fill="#161616" font-size="53">0</text>
<text x="324" y="987.8" font-family="Liberation Serif, serif" fill="#161616" font-size="65.5">10</text>
<text x="387.6" y="956.8" font-family="Liberation Serif, serif" fill="#161616" font-size="53">1</text>
<text x="324" y="850.5" font-family="Liberation Serif, serif" fill="#161616" font-size="65.5">10</text>
<text x="387.6" y="819.5" font-family="Liberation Serif, serif" fill="#161616" font-size="53">2</text>
<text x="324" y="713.3" font-family="Liberation Serif, serif" fill="#161616" font-size="65.5">10</text>
<text x="387.6" y="682.3" font-family="Liberation Serif, serif" fill="#161616" font-size="53">3</text>
<text x="324" y="576.0" font-family="Liberation Serif, serif" fill="#161616" font-size="65.5">10</text>
<text x="387.6" y="545.0" font-family="Liberation Serif, serif" fill="#161616" font-size="53">4</text>
<text x="324" y="438.8" font-family="Liberation Serif, serif" fill="#161616" font-size="65.5">10</text>
<text x="387.6" y="407.8" font-family="Liberation Serif, serif" fill="#161616" font-size="53">5</text>
<text x="324" y="301.5" font-family="Liberation Serif, serif" fill="#161616" font-size="65.5">10</text>
<text x="387.6" y="270.5" font-family="Liberation Serif, serif" fill="#161616" font-size="53">6</text>
<text x="324" y="164.3" font-family="Liberation Serif, serif" fill="#161616" font-size="65.5">10</text>
<text x="387.6" y="133.3" font-family="Liberation Serif, serif" fill="#161616" font-size="53">7</text>
<text x="120.5" y="1251.5" font-family="Liberation Serif, serif" fill="#161616" font-size="63.6" transform="translate(120.5,1251.5) scale(1,0.97) translate(-120.5,-1251.5)">No damage</text>
<text x="385.1" y="1332.9" font-family="Liberation Serif, serif" fill="#161616" font-size="65.5">10</text>
<text x="448.6" y="1302" font-family="Liberation Serif, serif" fill="#161616" font-size="54" letter-spacing="-1">-3</text>
<text x="825.1" y="1332.9" font-family="Liberation Serif, serif" fill="#161616" font-size="65.5">10</text>
<text x="888.6" y="1302" font-family="Liberation Serif, serif" fill="#161616" font-size="54" letter-spacing="-1">-2</text>
<text x="1265.1" y="1332.9" font-family="Liberation Serif, serif" fill="#161616" font-size="65.5">10</text>
<text x="1328.6" y="1302" font-family="Liberation Serif, serif" fill="#161616" font-size="54" letter-spacing="-1">-1</text>
<text x="1714.3" y="1332.9" font-family="Liberation Serif, serif" fill="#161616" font-size="65.5">10</text>
<text x="1777.8" y="1302" font-family="Liberation Serif, serif" fill="#161616" font-size="54" letter-spacing="-1">0</text>
<text x="2154.3" y="1332.9" font-family="Liberation Serif, serif" fill="#161616" font-size="65.5">10</text>
<text x="2217.8" y="1302" font-family="Liberation Serif, serif" fill="#161616" font-size="54" letter-spacing="-1">1</text>
<g transform="translate(0,1430.5) scale(1,0.97) translate(0,-1430.5)"><text x="805.9" y="1430.5" font-family="Liberation Serif, serif" fill="#161616" font-size="63.6">Estimated 1/e</text>
<text x="1198" y="1430.5" font-family="Liberation Serif, serif" fill="#161616" font-size="63.6">fluence at sensor (Jcm</text>
<text x="1815" y="1430.5" font-family="Liberation Serif, serif" fill="#161616" font-size="63.6">)</text></g>
<text x="1153.6" y="1400" font-family="Liberation Serif, serif" fill="#161616" font-size="53">2</text>
<text x="1768.5" y="1400.5" font-family="Liberation Serif, serif" fill="#161616" font-size="53" letter-spacing="-1.5">-2</text>
<text transform="translate(90.5,1020.5) rotate(-90) scale(1,1.03)" x="0" y="0" font-family="Liberation Serif, serif" fill="#161616" font-size="63.7">Number of pixels damaged</text>
<text x="464" y="337.5" font-family="Liberation Sans, sans-serif" font-size="64.3" fill="#ff0000" transform="translate(0,337.5) scale(1,1.04) translate(0,-337.5)">Array size</text>
</svg>
</body></html>
